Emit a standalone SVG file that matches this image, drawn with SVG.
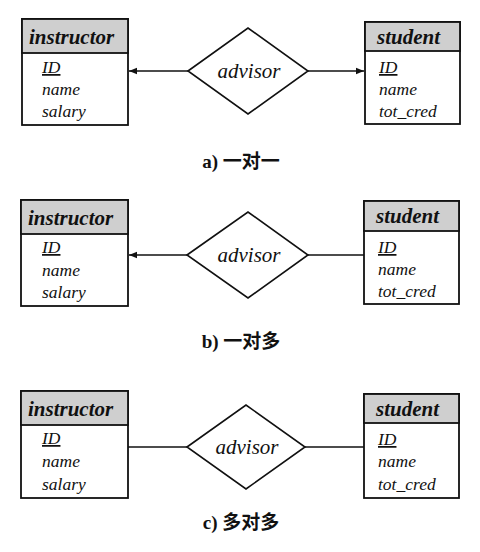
<svg xmlns="http://www.w3.org/2000/svg" width="480" height="552" viewBox="0 0 480 552">
<style>
.box{fill:#fff;stroke:#111;stroke-width:1.8}
.hdr{fill:#cfcfcf;stroke:#111;stroke-width:1.8}
.dia{fill:#fff;stroke:#111;stroke-width:1.6}
.ln{stroke:#111;stroke-width:1.5;fill:none}
.t{font-family:"Liberation Serif",serif;font-style:italic;font-size:17.5px;fill:#111}
.h{font-family:"Liberation Serif",serif;font-style:italic;font-weight:bold;font-size:21px;fill:#111}
.r{font-family:"Liberation Serif",serif;font-style:italic;font-size:21px;fill:#111}
.cap{font-family:"Liberation Serif","Noto Sans CJK SC",serif;font-weight:bold;font-size:19px;fill:#111}
</style>
<defs>
<marker id="arr" viewBox="0 0 10 10" refX="10" refY="5" markerWidth="8" markerHeight="8" markerUnits="userSpaceOnUse" orient="auto">
<path d="M0,1 L10,5 L0,9 z" fill="#111"/>
</marker>
</defs>
<g id="connectors">
<line class="ln" x1="188" y1="71" x2="129" y2="71" marker-end="url(#arr)"/>
<line class="ln" x1="308" y1="71" x2="364" y2="71" marker-end="url(#arr)"/>
<line class="ln" x1="187" y1="255" x2="129" y2="255" marker-end="url(#arr)"/>
<line class="ln" x1="308" y1="255" x2="364" y2="255"/>
<line class="ln" x1="187" y1="447" x2="128" y2="447"/>
<line class="ln" x1="305" y1="447" x2="364" y2="447"/>
</g>
<g id="instructor-a">
<rect class="box" x="22" y="19" width="106" height="106"/>
<rect class="hdr" x="22" y="19" width="106" height="34"/>
<text class="h" x="29" y="44">instructor</text>
<text class="t" x="42" y="73" text-decoration="underline">ID</text>
<text class="t" x="42" y="95">name</text>
<text class="t" x="42" y="117">salary</text>
</g>
<g id="advisor-a">
<polygon class="dia" points="188,71 248,28 308,71 248,114"/>
<text class="r" x="249" y="78" text-anchor="middle">advisor</text>
</g>
<g id="student-a">
<rect class="box" x="365" y="22" width="95" height="102"/>
<rect class="hdr" x="365" y="22" width="95" height="29"/>
<text class="h" x="377" y="44">student</text>
<text class="t" x="379" y="73" text-decoration="underline">ID</text>
<text class="t" x="379" y="95">name</text>
<text class="t" x="379" y="117">tot_cred</text>
</g>
<text id="cap-a" class="cap" x="241" y="168" text-anchor="middle">a) 一对一</text>
<g id="instructor-b">
<rect class="box" x="21" y="200" width="107" height="106"/>
<rect class="hdr" x="21" y="200" width="107" height="34"/>
<text class="h" x="28" y="225">instructor</text>
<text class="t" x="42" y="253" text-decoration="underline">ID</text>
<text class="t" x="42" y="276">name</text>
<text class="t" x="42" y="298">salary</text>
</g>
<g id="advisor-b">
<polygon class="dia" points="187,255 248,212 308,255 248,298"/>
<text class="r" x="249" y="262" text-anchor="middle">advisor</text>
</g>
<g id="student-b">
<rect class="box" x="364" y="201" width="95" height="103"/>
<rect class="hdr" x="364" y="201" width="95" height="30"/>
<text class="h" x="376" y="223">student</text>
<text class="t" x="378" y="253" text-decoration="underline">ID</text>
<text class="t" x="378" y="275">name</text>
<text class="t" x="378" y="297">tot_cred</text>
</g>
<text id="cap-b" class="cap" x="241" y="348" text-anchor="middle">b) 一对多</text>
<g id="instructor-c">
<rect class="box" x="21" y="391" width="107" height="107"/>
<rect class="hdr" x="21" y="391" width="107" height="34"/>
<text class="h" x="28" y="416">instructor</text>
<text class="t" x="42" y="444" text-decoration="underline">ID</text>
<text class="t" x="42" y="467">name</text>
<text class="t" x="42" y="490">salary</text>
</g>
<g id="advisor-c">
<polygon class="dia" points="187,447 246,405 305,447 246,489"/>
<text class="r" x="247" y="454" text-anchor="middle">advisor</text>
</g>
<g id="student-c">
<rect class="box" x="364" y="394" width="95" height="104"/>
<rect class="hdr" x="364" y="394" width="95" height="29"/>
<text class="h" x="376" y="416">student</text>
<text class="t" x="378" y="445" text-decoration="underline">ID</text>
<text class="t" x="378" y="467">name</text>
<text class="t" x="378" y="490">tot_cred</text>
</g>
<text id="cap-c" class="cap" x="241" y="529" text-anchor="middle">c) 多对多</text>
</svg>
